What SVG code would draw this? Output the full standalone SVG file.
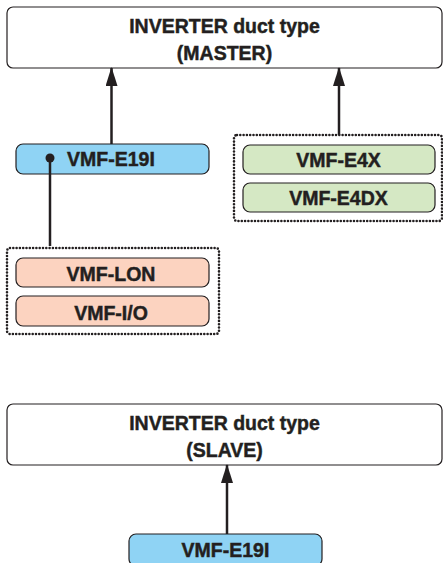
<svg xmlns="http://www.w3.org/2000/svg" width="443" height="563" viewBox="0 0 443 563">
<style>
text{font-family:"Liberation Sans",Arial,sans-serif;font-weight:bold;font-size:19.5px;fill:#231f20;stroke:#231f20;stroke-width:0.45;text-anchor:middle}
.main{fill:#fff;stroke:#231f20;stroke-width:1.2}
.blue{fill:#8fd3f4;stroke:#231f20;stroke-width:1.2}
.green{fill:#d5e8c4;stroke:#231f20;stroke-width:1.2}
.salmon{fill:#fcd3c0;stroke:#231f20;stroke-width:1.2}
.dot{fill:none;stroke:#231f20;stroke-width:2.6;stroke-dasharray:0 3.3;stroke-linecap:round}
.conn{stroke:#231f20;stroke-width:2.5;fill:none}
</style>
<defs>
<marker id="ah" viewBox="0 0 19 12" refX="18" refY="6" markerWidth="19" markerHeight="12" markerUnits="userSpaceOnUse" orient="auto">
<path d="M19 6 L0 0 L0 12 Z" fill="#231f20"/>
</marker>
</defs>
<g id="master">
<rect class="main" x="7" y="7" width="435" height="61" rx="6"/>
<text x="224.5" y="33">INVERTER duct type</text>
<text x="224.5" y="60">(MASTER)</text>
</g>
<g id="group-left"><rect class="dot" x="7" y="248" width="212" height="86" rx="3"/></g>
<g id="group-right"><rect class="dot" x="234" y="135" width="208" height="86" rx="3"/></g>
<g id="e19i-top">
<rect class="blue" x="16" y="144" width="193" height="30" rx="7"/>
<text x="111" y="166">VMF-E19I</text>
</g>
<g id="e4x">
<rect class="green" x="243" y="145" width="192" height="29" rx="7"/>
<text x="338.5" y="166.5">VMF-E4X</text>
</g>
<g id="e4dx">
<rect class="green" x="243" y="183" width="192" height="29" rx="7"/>
<text x="338.5" y="204.5">VMF-E4DX</text>
</g>
<g id="lon">
<rect class="salmon" x="16" y="258" width="193" height="29" rx="7"/>
<text x="111" y="281">VMF-LON</text>
</g>
<g id="io">
<rect class="salmon" x="16" y="296" width="193" height="30" rx="7"/>
<text x="111" y="319.5">VMF-I/O</text>
</g>
<g id="slave">
<rect class="main" x="7" y="404" width="435" height="61" rx="6"/>
<text x="224.5" y="430">INVERTER duct type</text>
<text x="224.5" y="457">(SLAVE)</text>
</g>
<g id="e19i-bottom">
<rect class="blue" x="129" y="534" width="193" height="32" rx="7"/>
<text x="225.5" y="557">VMF-E19I</text>
</g>
<g id="connectors">
<line class="conn" x1="111.5" y1="144" x2="111.5" y2="68" marker-end="url(#ah)"/>
<line class="conn" x1="339" y1="135" x2="339" y2="68" marker-end="url(#ah)"/>
<line class="conn" x1="227" y1="534" x2="227" y2="465" marker-end="url(#ah)"/>
<line class="conn" x1="50" y1="158" x2="50" y2="246"/>
<circle cx="50" cy="158" r="4.5" fill="#231f20"/>
</g>
</svg>
